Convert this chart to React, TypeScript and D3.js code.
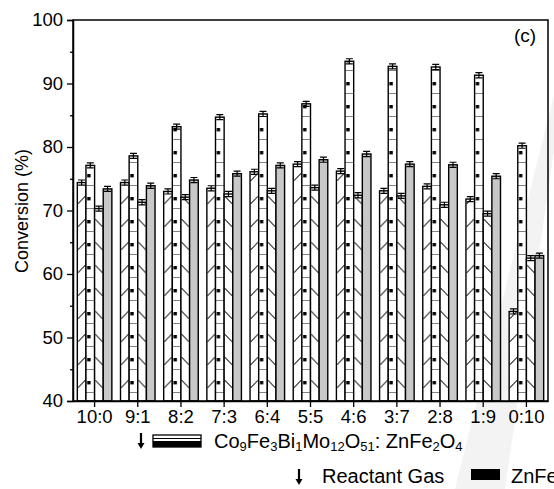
import React, { useEffect, useRef } from 'react';
import * as d3 from 'd3';

const categories = ['10:0', '9:1', '8:2', '7:3', '6:4', '5:5', '4:6', '3:7', '2:8', '1:9', '0:10'];
const seriesKeys = ['a', 'b', 'c', 'd'];

// conversion (%), one array per bar style
const valuesA = [74.4, 74.4, 73.0, 73.5, 76.1, 77.3, 76.2, 73.1, 73.8, 71.8, 54.1];
const valuesB = [77.1, 78.6, 83.2, 84.7, 85.2, 86.8, 93.5, 92.7, 92.6, 91.3, 80.2];
const valuesC = [70.3, 71.3, 72.1, 72.6, 73.1, 73.6, 72.4, 72.3, 70.9, 69.5, 62.5];
const valuesD = [73.4, 73.9, 74.8, 75.8, 77.1, 78.0, 78.9, 77.3, 77.2, 75.4, 62.9];
const errorsA = [0.4, 0.4, 0.4, 0.4, 0.4, 0.4, 0.4, 0.4, 0.4, 0.4, 0.4];
const errorsB = [0.4, 0.4, 0.4, 0.4, 0.4, 0.4, 0.4, 0.4, 0.4, 0.4, 0.4];
const errorsC = [0.4, 0.4, 0.4, 0.4, 0.4, 0.4, 0.4, 0.4, 0.4, 0.4, 0.4];
const errorsD = [0.4, 0.4, 0.4, 0.4, 0.4, 0.4, 0.4, 0.4, 0.4, 0.4, 0.4];

const yTicks = [40, 50, 60, 70, 80, 90, 100];
const yMinorTicks = [45, 55, 65, 75, 85, 95];

const FONT = 'Arial, "Liberation Sans", sans-serif';

function App() {
  const svgRef = useRef<SVGSVGElement>(null);

  useEffect(() => {
    const svg = d3.select(svgRef.current);
    svg.selectAll('*').remove();

    const left = 73, right = 548, top = 20, bottom = 401;
    const x0 = d3.scaleBand().domain(categories).range([left, right]).paddingInner(0.2).paddingOuter(0.1);
    const x1 = d3.scaleBand().domain(seriesKeys).range([0, x0.bandwidth()]);
    const y = d3.scaleLinear().domain([40, 100]).range([bottom, top]);
    const bw = x1.bandwidth();
    const tileH = 23;

    const values: Record<string, number[]> = { a: valuesA, b: valuesB, c: valuesC, d: valuesD };
    const errors: Record<string, number[]> = { a: errorsA, b: errorsB, c: errorsC, d: errorsD };

    // faint watermark band
    svg.append('polygon')
      .attr('points', '554,95 554,150 505,489 455,489')
      .attr('fill', '#f3f3f3');

    // patterns live in the group's local space (groups are translated)
    const defs = svg.append('defs');
    const makePattern = (key: string) => {
      const p = defs.append('pattern')
        .attr('id', 'pat-' + key)
        .attr('patternUnits', 'userSpaceOnUse')
        .attr('x', x1(key) as number)
        .attr('y', bottom)
        .attr('width', bw)
        .attr('height', tileH);
      p.append('rect').attr('width', bw).attr('height', tileH).attr('fill', key === 'd' ? '#c8c8c8' : '#fff');
      return p;
    };
    const pa = makePattern('a');
    pa.append('line').attr('x1', 0.5).attr('y1', 10).attr('x2', bw - 0.5).attr('y2', 2)
      .attr('stroke', '#000').attr('stroke-width', 1);
    const pb = makePattern('b');
    pb.append('rect').attr('x', 1.2).attr('y', 3).attr('width', 3.4).attr('height', 3.4).attr('fill', '#000');
    pb.append('line').attr('x1', 0).attr('x2', bw).attr('y1', 14.5).attr('y2', 14.5)
      .attr('stroke', '#666').attr('stroke-width', 0.8);
    const pc = makePattern('c');
    pc.append('line').attr('x1', 0.5).attr('y1', 2).attr('x2', bw - 0.5).attr('y2', 10)
      .attr('stroke', '#000').attr('stroke-width', 1);
    makePattern('d');

    const groups = svg.append('g').selectAll('g')
      .data(categories)
      .join('g')
      .attr('transform', d => `translate(${x0(d)},0)`);

    seriesKeys.forEach(key => {
      groups.append('rect')
        .attr('x', x1(key) as number)
        .attr('y', (d, i) => y(values[key][i]))
        .attr('width', bw)
        .attr('height', (d, i) => bottom - y(values[key][i]))
        .attr('fill', `url(#pat-${key})`)
        .attr('stroke', '#000')
        .attr('stroke-width', 1.4);

      const cx = (x1(key) as number) + bw / 2;
      groups.append('path')
        .attr('d', (d, i) => {
          const v = values[key][i], e = errors[key][i];
          const y1 = y(v + e), y2 = y(v - e);
          return `M${cx},${y1}V${y2}M${cx - 3.5},${y1}H${cx + 3.5}M${cx - 3.5},${y2}H${cx + 3.5}`;
        })
        .attr('stroke', '#000')
        .attr('stroke-width', 1.2)
        .attr('fill', 'none');
    });

    // frame
    svg.append('rect')
      .attr('x', left).attr('y', top)
      .attr('width', right - left).attr('height', bottom - top)
      .attr('fill', 'none').attr('stroke', '#000').attr('stroke-width', 1.5);

    const yAxis = svg.append('g')
      .attr('transform', `translate(${left},0)`)
      .call(d3.axisLeft(y).tickValues(yTicks).tickSize(6).tickPadding(4).tickFormat(d3.format('d')));
    svg.append('g')
      .attr('transform', `translate(${left},0)`)
      .call(d3.axisLeft(y).tickValues(yMinorTicks).tickSize(3).tickFormat(() => ''))
      .call(g => g.select('.domain').remove());

    const xAxis = svg.append('g')
      .attr('transform', `translate(0,${bottom})`)
      .call(d3.axisBottom(x0).tickSize(6).tickSizeOuter(0).tickPadding(3));

    [yAxis, xAxis].forEach(a => {
      a.select('.domain').attr('stroke-width', 1.5);
      a.selectAll('text').attr('font-family', FONT).attr('font-size', 18.5).attr('fill', '#000');
    });
    svg.selectAll('.tick line').attr('stroke-width', 1.3);

    svg.append('text')
      .attr('transform', 'translate(28,211) rotate(-90)')
      .attr('text-anchor', 'middle')
      .attr('font-family', FONT).attr('font-size', 18)
      .text('Conversion (%)');

    svg.append('text')
      .attr('x', 525).attr('y', 42)
      .attr('text-anchor', 'middle')
      .attr('font-family', FONT).attr('font-size', 19)
      .text('(c)');

    // legend
    const arrow = (x: number, y1: number, y2: number) => {
      svg.append('line').attr('x1', x).attr('x2', x).attr('y1', y1).attr('y2', y2 - 4)
        .attr('stroke', '#000').attr('stroke-width', 2.2);
      svg.append('path').attr('d', `M${x - 3.5},${y2 - 6}L${x + 3.5},${y2 - 6}L${x},${y2}Z`).attr('fill', '#000');
    };
    arrow(141, 433, 449);
    svg.append('rect').attr('x', 153).attr('y', 435).attr('width', 48).attr('height', 12)
      .attr('fill', '#fff').attr('stroke', '#000').attr('stroke-width', 1.3);
    svg.append('line').attr('x1', 153).attr('x2', 201).attr('y1', 438.5).attr('y2', 438.5)
      .attr('stroke', '#000').attr('stroke-width', 1);
    svg.append('rect').attr('x', 153).attr('y', 441).attr('width', 48).attr('height', 6).attr('fill', '#000');

    const label = svg.append('text')
      .attr('x', 214).attr('y', 448)
      .attr('font-family', FONT).attr('font-size', 20);
    const parts: [string, boolean][] = [
      ['Co', false], ['9', true], ['Fe', false], ['3', true], ['Bi', false], ['1', true],
      ['Mo', false], ['12', true], ['O', false], ['51', true], [': ZnFe', false], ['2', true], ['O', false], ['4', true],
    ];
    parts.forEach(([t, sub]) => {
      label.append('tspan')
        .attr('font-size', sub ? 13 : 20)
        .attr('baseline-shift', sub ? '-25%' : null)
        .text(t);
    });

    arrow(299, 469, 485);
    svg.append('text').attr('x', 322).attr('y', 483)
      .attr('font-family', FONT).attr('font-size', 20).text('Reactant Gas');
    svg.append('rect').attr('x', 471).attr('y', 469).attr('width', 29).attr('height', 11).attr('fill', '#000');
    svg.append('text').attr('x', 511).attr('y', 483)
      .attr('font-family', FONT).attr('font-size', 20).text('ZnFe');
  }, []);

  return (
    <svg ref={svgRef} width={554} height={489}
      style={{ position: 'absolute', left: 0, top: 0, background: '#fff' }} />
  );
}

export default App;
